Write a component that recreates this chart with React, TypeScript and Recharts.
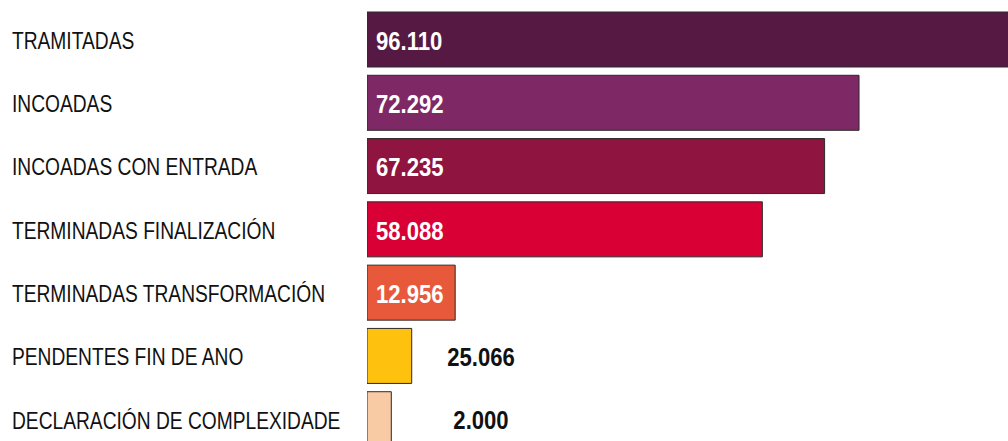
import React from "react";
import { BarChart, Bar, XAxis, YAxis, Cell, LabelList } from "recharts";

// categories, top to bottom
const categorias = [
  "TRAMITADAS",
  "INCOADAS",
  "INCOADAS CON ENTRADA",
  "TERMINADAS FINALIZACIÓN",
  "TERMINADAS TRANSFORMACIÓN",
  "PENDENTES FIN DE ANO",
  "DECLARACIÓN DE COMPLEXIDADE",
];

// printed values
const etiquetas = ["96.110", "72.292", "67.235", "58.088", "12.956", "25.066", "2.000"];

// bar lengths as drawn in the source (last two are not to scale with their labels)
const longitudes = [96110, 72292, 67235, 58088, 12956, 6570, 3570];

const cores = ["#561944", "#7e2966", "#8f1440", "#d90036", "#e8593b", "#fdc10e", "#f8cba5"];

const FONT = "'Liberation Sans', Arial, sans-serif";

const data = categorias.map((nome, i) => ({
  nome,
  largo: longitudes[i],
  etiqueta: etiquetas[i],
}));

// condensed look: horizontal squeeze of a regular face
function CategoryTick(props: any) {
  const { y, payload } = props;
  return (
    <g transform={`translate(12, ${y + 1}) scale(0.8, 1)`}>
      <text
        x={0}
        y={0}
        textAnchor="start"
        dominantBaseline="central"
        fontFamily={FONT}
        fontSize={24}
        fill="#111"
      >
        {payload.value}
      </text>
    </g>
  );
}

function ValueLabel(props: any) {
  const { x, y, height, value, index } = props;
  const inside = index < 5;
  const tx = inside ? x + 9 : x + 114;
  return (
    <g transform={`translate(${tx}, ${y + height / 2 + 1}) scale(0.85, 1)`}>
      <text
        x={0}
        y={0}
        textAnchor={inside ? "start" : "middle"}
        dominantBaseline="central"
        fontFamily={FONT}
        fontWeight="bold"
        fontSize={26}
        fill={inside ? "#fff" : "#111"}
      >
        {value}
      </text>
    </g>
  );
}

export default function App() {
  return (
    <div
      style={{
        position: "fixed",
        left: 0,
        top: 0,
        width: 1008,
        height: 441,
        overflow: "hidden",
        background: "#fff",
      }}
    >
      <BarChart
        layout="vertical"
        width={1008}
        height={460}
        data={data}
        margin={{ top: 8, right: 0, bottom: 9, left: 0 }}
      >
        <XAxis type="number" hide domain={[0, 94180]} allowDataOverflow />
        <YAxis
          type="category"
          dataKey="nome"
          width={367}
          axisLine={false}
          tickLine={false}
          interval={0}
          tick={<CategoryTick />}
        />
        <Bar dataKey="largo" barSize={55} stroke="#2a2a2a" strokeWidth={1} isAnimationActive={false}>
          {data.map((d, i) => (
            <Cell key={d.nome} fill={cores[i]} />
          ))}
          <LabelList dataKey="etiqueta" content={<ValueLabel />} />
        </Bar>
      </BarChart>
    </div>
  );
}
